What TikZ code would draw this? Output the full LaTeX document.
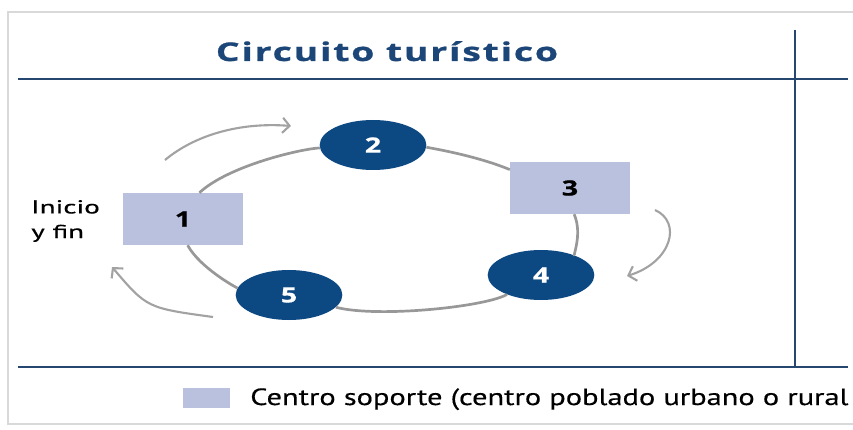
\documentclass[tikz,border=0pt]{standalone}
\usepackage{fontspec}
\setmainfont{PT Sans}
\newfontfamily\titlefont[FakeStretch=1.45, LetterSpace=7, FakeBold=0.8]{Open Sans}
\newfontfamily\digitfont[FakeStretch=1.35, FakeBold=0.8]{Open Sans}
\newfontfamily\widefont[FakeStretch=1.55, FakeBold=0.6]{PT Sans}
\newfontfamily\keyfont[FakeStretch=1.3, FakeBold=0.4]{PT Sans}
\usetikzlibrary{arrows.meta, positioning, shapes.geometric}
\definecolor{navy}{RGB}{12,72,130}
\definecolor{rulec}{RGB}{38,72,112}
\definecolor{titlec}{RGB}{28,70,120}
\definecolor{lav}{RGB}{186,193,222}
\definecolor{ringc}{RGB}{152,152,152}

\begin{document}
\begin{tikzpicture}[x=0.03cm, y=-0.03cm,
  stop/.style = {ellipse, fill=navy, minimum width=3.2cm, minimum height=1.5cm,
                 inner sep=0pt, text=white, font=\digitfont\fontsize{18}{18}\selectfont\bfseries},
  base/.style = {rectangle, fill=lav, minimum width=3.6cm, minimum height=1.56cm,
                 inner sep=0pt, font=\digitfont\fontsize{18}{18}\selectfont\bfseries},
  ring/.style = {ringc, line width=2.3pt},
  arr/.style  = {-{Straight Barb[length=6pt, width=13pt]}, ringc!90, line width=1.8pt},
  rl/.style   = {rulec, line width=1.1pt}
]
\useasboundingbox (0,0) rectangle (853,430);
\draw[gray!30, line width=1.5pt] (853,12) -- (8,12) -- (8,424) -- (853,424);

% frame lines
\coordinate (tl) at (18,79);  \coordinate (tr) at (848,79);
\coordinate (bl) at (18,367); \coordinate (br) at (848,367);
\coordinate (vt) at (795,30); \coordinate (vb) at (795,367);
\draw[rl] (tl) -- (tr); \draw[rl] (bl) -- (br); \draw[rl] (vt) -- (vb);

\node[anchor=base, inner sep=0pt, text=titlec, font=\titlefont\fontsize{22}{22}\selectfont\bfseries] (title) at (387,61) {Circuito turístico};

% stops of the circuit
\node[base] (b1) at (183,219) {1};
\node[stop] (n2) at (373,145) {2};
\node[base] (b3) at (570,188) {3};
\node[stop] (n4) at (541,275) {4};
\node[stop] (n5) at (289,295) {5};

\node[align=left, anchor=west, inner sep=0pt, font=\widefont\fontsize{16}{21}\selectfont] (ini) at (31,221) {Inicio\\y fin};

% ring, one arc of the ellipse per leg
\draw[ring] (b1.58)  .. controls (228,166) and (300,149) .. (n2);
\draw[ring] (n2)     .. controls (423,147) and (472,154) .. (b3.163);
\draw[ring] (b3.-81) .. controls (583,235) and (572,257) .. (n4);
\draw[ring] (n4)     .. controls (485,307) and (377,318) .. (n5);
\draw[ring] (n5)     .. controls (237,288) and (200,268) .. (b1.-80);

% direction arrows
\coordinate (a1s) at (165,160); \coordinate (a1e) at (291,126);
\coordinate (a2s) at (655,210); \coordinate (a2e) at (627,276);
\coordinate (a3s) at (213,317); \coordinate (a3e) at (112,267);
\draw[arr] (a1s) .. controls (195,135) and (240,122) .. (a1e);
\draw[arr] (a2s) .. controls (682,222) and (672,262) .. (a2e);
\draw[arr] (a3s) .. controls (147,308) .. (a3e);

% legend
\node[rectangle, fill=lav, minimum width=1.41cm, minimum height=0.6cm, inner sep=0pt] (key) at (206,398) {};
\node[anchor=base west, inner sep=0pt, font=\keyfont\fontsize{20}{20}\selectfont] (keytxt) at (250,405) {Centro soporte (centro poblado urbano o rural};
\end{tikzpicture}
\end{document}
